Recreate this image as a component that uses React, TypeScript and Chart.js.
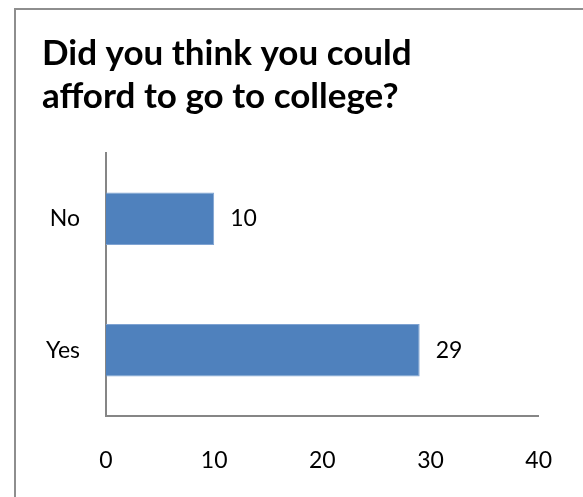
import React, { useEffect, useRef } from "react";
import { Chart, registerables } from "chart.js";

Chart.register(...registerables);

const titleLines = ["Did you think you could", "afford to go to college?"];
const categories = ["No", "Yes"];
const values = [10, 29];
const xTicks = [0, 10, 20, 30, 40];

const FONT = "Lato, 'Open Sans', sans-serif";

const valueLabels = {
  id: "valueLabels",
  afterDatasetsDraw(chart: any) {
    const ctx = chart.ctx;
    const meta = chart.getDatasetMeta(0);
    ctx.save();
    ctx.font = `23px ${FONT}`;
    ctx.fillStyle = "#000000";
    ctx.textAlign = "left";
    ctx.textBaseline = "middle";
    meta.data.forEach((bar: any, i: number) => {
      ctx.fillText(String(values[i]), bar.x + 16, bar.y);
    });
    ctx.restore();
  },
};

export default function App() {
  const ref = useRef<HTMLCanvasElement | null>(null);

  useEffect(() => {
    if (!ref.current) return;
    const chart = new Chart(ref.current, {
      type: "bar",
      data: {
        labels: categories,
        datasets: [
          {
            data: values,
            backgroundColor: "#4F81BD",
            borderColor: "#7FA3D2",
            borderWidth: 1,
            categoryPercentage: 1,
            barPercentage: 0.4,
          },
        ],
      },
      options: {
        indexAxis: "y",
        animation: false,
        responsive: false,
        layout: { padding: { left: 42, right: 35, top: 0, bottom: 0 } },
        plugins: {
          legend: { display: false },
          tooltip: { enabled: false },
          title: {
            display: true,
            text: titleLines,
            align: "start",
            color: "#000000",
            font: { family: FONT, size: 35, weight: "bold", lineHeight: "43px" },
            padding: { top: 32, bottom: 35 },
          },
        },
        scales: {
          x: {
            min: 0,
            max: 40,
            afterBuildTicks: (scale: any) => {
              scale.ticks = xTicks.map((v) => ({ value: v }));
            },
            afterFit: (scale: any) => {
              scale.height = 81;
            },
            grid: { display: false, drawTicks: false },
            border: { display: true, color: "#868686", width: 2 },
            ticks: {
              color: "#000000",
              padding: 31,
              font: { family: FONT, size: 23 },
              maxRotation: 0,
            },
          },
          y: {
            afterFit: (scale: any) => {
              scale.width = 64;
            },
            grid: { display: false, drawTicks: false },
            border: { display: true, color: "#868686", width: 2 },
            ticks: {
              color: "#000000",
              padding: 26,
              font: { family: FONT, size: 23 },
            },
          },
        },
      },
      plugins: [valueLabels],
    });
    return () => chart.destroy();
  }, []);

  return (
    <div
      style={{
        position: "fixed",
        left: 0,
        top: 0,
        width: 583,
        height: 497,
        overflow: "hidden",
        background: "#ffffff",
      }}
    >
      <div
        style={{
          position: "absolute",
          left: 14,
          top: 8,
          width: 620,
          height: 540,
          border: "2px solid #8e8e8e",
          boxSizing: "border-box",
        }}
      />
      <canvas
        ref={ref}
        width={583}
        height={497}
        style={{ position: "absolute", left: 0, top: 0, width: 583, height: 497 }}
      />
    </div>
  );
}
